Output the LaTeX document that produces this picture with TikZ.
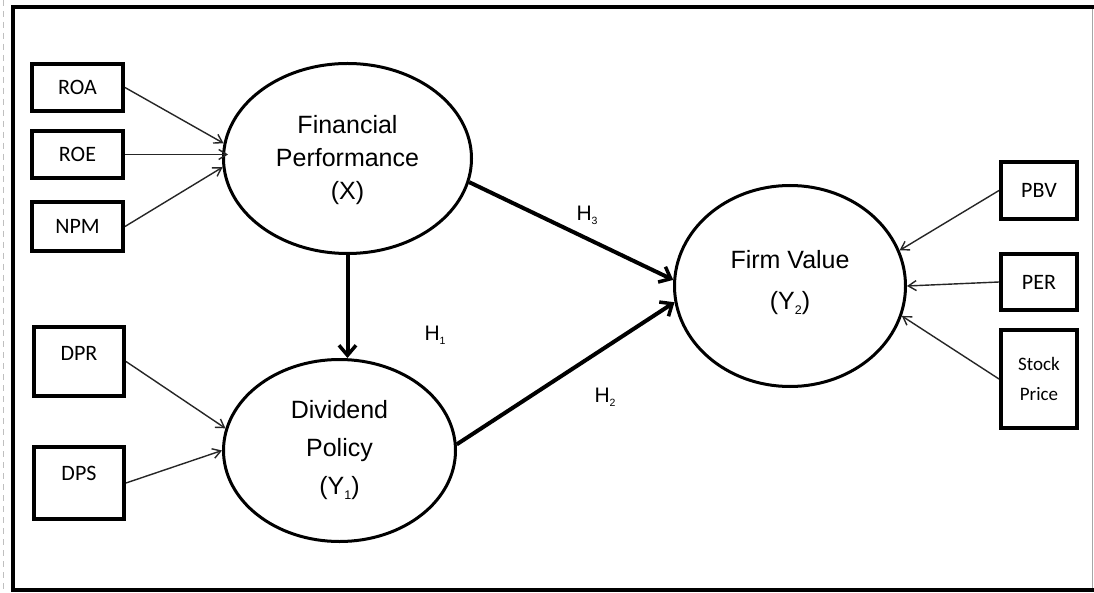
\documentclass[tikz,border=0pt]{standalone}
\usepackage{fontspec}
\setmainfont{Liberation Sans}
\newfontfamily\boxfont{Carlito}
\usetikzlibrary{shapes.geometric,arrows.meta}

% small subscript used in construct and hypothesis labels
\newcommand{\smallsub}[1]{\raisebox{-0.35ex}{\scalebox{0.5}{#1}}}

\tikzset{
  indicator/.style={draw=black, line width=4pt, inner sep=0pt, font=\boxfont\fontsize{22}{24}\selectfont},
  construct/.style={ellipse, draw=black, line width=3pt, inner sep=0pt, align=center},
  thinarrow/.style={draw=black!85, line width=1.4pt, -{Straight Barb[length=8pt,width=10pt,line width=1.4pt]}},
  thickarrow/.style={draw=black, line width=4pt, -{Straight Barb[length=10pt,width=17pt,line width=3.5pt]}},
  hyp/.style={font=\fontsize{21}{22}\selectfont, inner sep=0pt}
}

\begin{document}
\begin{tikzpicture}[x=1pt, y=-1pt]
  \useasboundingbox (0,0) rectangle (1094,593);
  \fill[white] (0,0) rectangle (1094,593);

  % page edge marks and outer frame
  \draw[black!25, line width=0.8pt, dash pattern=on 6pt off 5pt] (3,0) -- (3,593);
  \draw[black!35, line width=1pt] (1092,7) -- (1092,590);
  \draw[black, line width=3.5pt] (1094,7) -- (13,7) -- (13,590) -- (1094,590);

  % latent constructs
  \node[construct, minimum width=248pt, minimum height=190pt] (FP) at (347.5,158.5) {};
  \node[font=\fontsize{25}{33}\selectfont, align=center] at (347.5,160) {Financial\\Performance\\(X)};

  \node[construct, minimum width=232pt, minimum height=182pt] (DP) at (339.5,450.5) {};
  \node[font=\fontsize{25}{38}\selectfont, align=center] at (339.5,450) {Dividend\\Policy\\(Y\smallsub{1})};

  \node[construct, minimum width=231pt, minimum height=201pt] (FV) at (790,286) {};
  \node[font=\fontsize{25}{41}\selectfont, align=center] at (790,283) {Firm Value\\(Y\smallsub{2})};

  % indicators
  \node[indicator, minimum width=91pt, minimum height=47pt] (ROA) at (77.5,87.5) {ROA};
  \node[indicator, minimum width=91pt, minimum height=47pt] (ROE) at (77.5,154.5) {ROE};
  \node[indicator, minimum width=91pt, minimum height=49pt] (NPM) at (77.5,226.5) {NPM};

  \node[indicator, minimum width=90pt, minimum height=69pt] (DPR) at (79,361.5) {};
  \node[font=\boxfont\fontsize{22}{24}\selectfont] at (79,353) {DPR};
  \node[indicator, minimum width=90pt, minimum height=72pt] (DPS) at (79,483) {};
  \node[font=\boxfont\fontsize{22}{24}\selectfont] at (79,473) {DPS};

  \node[indicator, minimum width=76pt, minimum height=57pt] (PBV) at (1039,190.5) {PBV};
  \node[indicator, minimum width=76pt, minimum height=56pt] (PER) at (1039,282) {PER};
  \node[indicator, minimum width=76pt, minimum height=98pt, align=center,
        font=\boxfont\fontsize{19}{30}\selectfont] (SP) at (1039,379) {Stock\\Price};

  % reflective indicator arrows
  \draw[thinarrow] (ROA.east) -- (FP.173);
  \draw[thinarrow] (ROE.east) -- ([xshift=6pt]ROE.east -| FP.west);
  \draw[thinarrow] (NPM.east) -- (FP.184);
  \draw[thinarrow] (DPR.east) -- (DP.169);
  \draw[thinarrow] (DPS.east) -- (DP.180);
  \draw[thinarrow] (PBV.west) -- (FV.18);
  \draw[thinarrow] (PER.west) -- (FV.0);
  \draw[thinarrow] (SP.west) -- (FV.-15);

  % structural paths
  \draw[thickarrow] (FP.south) -- (FP.south |- DP.north);
  \draw[thickarrow] (FP.-11) -- (FV.177);
  \draw[thickarrow] (DP.3) -- (FV.-172);

  % hypothesis labels
  \node[hyp] (H3) at (587,215) {H\smallsub{3}};
  \node[hyp] (H1) at (435,335) {H\smallsub{1}};
  \node[hyp] (H2) at (605,397) {H\smallsub{2}};
\end{tikzpicture}
\end{document}
